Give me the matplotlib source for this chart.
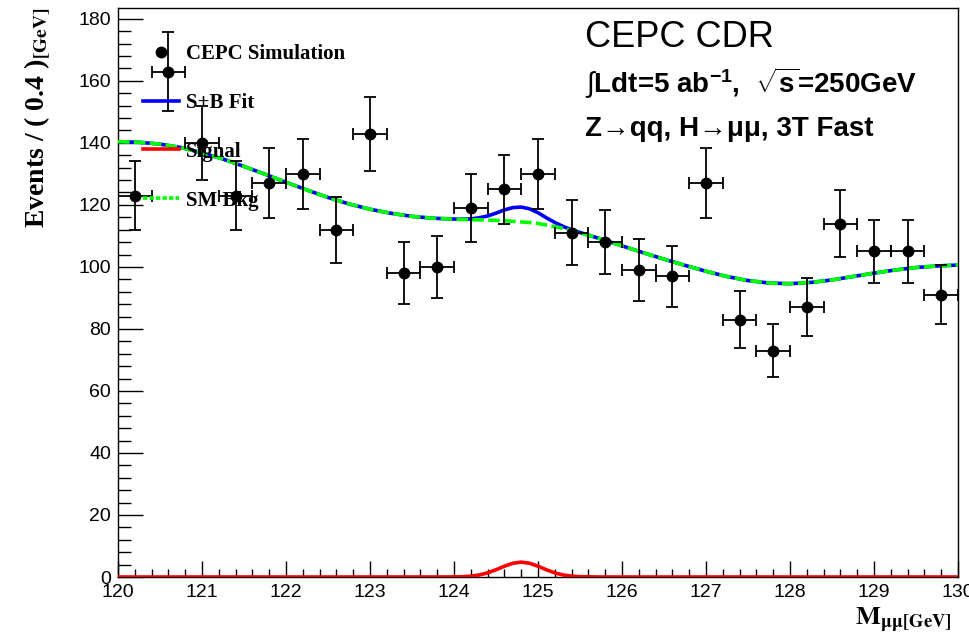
import numpy as np
import matplotlib
matplotlib.use("Agg")
import matplotlib.pyplot as plt
from matplotlib.lines import Line2D
from matplotlib.ticker import MultipleLocator

plt.rcParams.update({
    "font.family": ["Liberation Sans", "DejaVu Sans"],
    "mathtext.fontset": "custom",
    "mathtext.rm": "Liberation Sans",
    "mathtext.bf": "Liberation Sans:bold",
    "mathtext.it": "Liberation Sans:italic",
})

# binned M_mumu data, 0.4 GeV bins
bin_centers = [120.2, 120.6, 121.0, 121.4, 121.8, 122.2, 122.6, 123.0, 123.4,
               123.8, 124.2, 124.6, 125.0, 125.4, 125.8, 126.2, 126.6, 127.0,
               127.4, 127.8, 128.2, 128.6, 129.0, 129.4, 129.8]
events = [123, 163, 140, 123, 127, 130, 112, 143, 98, 100, 119, 125, 130,
          111, 108, 99, 97, 127, 83, 73, 87, 114, 105, 105, 91]
bin_halfwidth = 0.2

# fit curves sampled along M_mumu
fit_x = [120.00, 120.25, 120.50, 120.75, 121.00, 121.25, 121.50, 121.75,
         122.00, 122.25, 122.50, 122.75, 123.00, 123.25, 123.50, 123.75,
         124.00, 124.10, 124.20, 124.30, 124.40, 124.50, 124.60, 124.70,
         124.80, 124.90, 125.00, 125.10, 125.20, 125.30, 125.40, 125.50,
         125.75, 126.00, 126.25, 126.50, 126.75, 127.00, 127.25, 127.50,
         127.75, 128.00, 128.25, 128.50, 128.75, 129.00, 129.25, 129.50,
         129.75, 130.00]
bkg = [140.4, 140.2, 139.6, 138.5, 136.8, 134.8, 132.4, 129.9,
       127.3, 124.8, 122.4, 120.3, 118.6, 117.3, 116.3, 115.7,
       115.4, 115.3, 115.2, 115.2, 115.1, 115.0, 114.9, 114.7,
       114.5, 114.3, 114.0, 113.5, 113.0, 112.4, 111.7, 111.0,
       109.0, 106.8, 104.6, 102.5, 100.5, 98.6, 96.9, 95.6,
       94.8, 94.6, 95.0, 95.8, 96.9, 98.0, 99.0, 99.8,
       100.3, 100.6]
signal = [0.0, 0.0, 0.0, 0.0, 0.0, 0.0, 0.0, 0.0,
          0.0, 0.0, 0.0, 0.0, 0.0, 0.0, 0.0, 0.0,
          0.03, 0.10, 0.27, 0.65, 1.33, 2.34, 3.48, 4.43,
          4.80, 4.43, 3.48, 2.34, 1.33, 0.65, 0.27, 0.10,
          0.0, 0.0, 0.0, 0.0, 0.0, 0.0, 0.0, 0.0,
          0.0, 0.0, 0.0, 0.0, 0.0, 0.0, 0.0, 0.0,
          0.0, 0.0]

fit_x = np.array(fit_x)
bkg = np.array(bkg)
signal = np.array(signal)
sb = bkg + signal
events = np.array(events, dtype=float)
err = np.sqrt(events)

fig = plt.figure(figsize=(9.69, 6.40), dpi=100)
ax = fig.add_axes([118 / 969, 63 / 640, 840 / 969, 569 / 640])

ax.plot(fit_x, sb, color="#0000ff", lw=2.6, solid_capstyle="butt", zorder=2)
ax.plot(fit_x, bkg, color="#00ff00", lw=2.6, dashes=(3.2, 1.2), zorder=3)
ax.plot(fit_x, signal, color="#ff0000", lw=2.6, zorder=3)
ax.errorbar(bin_centers, events, xerr=bin_halfwidth, yerr=err, fmt="o",
            color="black", ms=7.5, elinewidth=1.3, capsize=4.0,
            capthick=1.3, zorder=4)

ax.set_xlim(120, 130)
ax.set_ylim(0, 183.5)
ax.xaxis.set_major_locator(MultipleLocator(1))
ax.xaxis.set_minor_locator(MultipleLocator(0.2))
ax.yaxis.set_major_locator(MultipleLocator(20))
ax.yaxis.set_minor_locator(MultipleLocator(4))
ax.tick_params(axis="both", which="both", direction="in", top=False,
               right=False, labelsize=14, width=1.0)
ax.tick_params(axis="x", which="major", length=11.5, pad=5)
ax.tick_params(axis="x", which="minor", length=5.8)
ax.tick_params(axis="y", which="major", length=18, pad=5)
ax.tick_params(axis="y", which="minor", length=9.4)
for s in ax.spines.values():
    s.set_linewidth(1.0)

# axis titles, ROOT-like placement
fig.text(38 / 969, 1 - 7 / 640, r"Events / ( 0.4 )$_{\mathbf{[GeV]}}$",
         rotation=90, ha="center", va="top", fontsize=20,
         family="Liberation Serif", fontweight="bold", math_fontfamily="stix")
ax.text((952 - 118) / 840, -(625 - 577) / 569,
        r"$\mathbf{M}_{\mathbf{μμ[GeV]}}$", transform=ax.transAxes,
        ha="right", va="baseline", fontsize=19, math_fontfamily="stix")

# legend
handles = [
    Line2D([], [], ls="none", marker="o", color="black", ms=7.5),
    Line2D([], [], color="#0000ff", lw=2.6),
    Line2D([], [], color="#ff0000", lw=2.6),
    Line2D([], [], color="#00ff00", lw=2.6, dashes=(1.2, 0.6)),
]
labels = ["CEPC Simulation", "S+B Fit", "Signal", "SM Bkg"]
ax.legend(handles, labels, loc="upper left", bbox_to_anchor=(0.03, 0.937),
          frameon=False, borderpad=0, borderaxespad=0, handlelength=1.7,
          handletextpad=0.35, labelspacing=1.39,
          prop={"family": "Liberation Serif", "weight": "bold", "size": 15})

# experiment labels
fig.text(585 / 969, 1 - 47 / 640, "CEPC CDR", fontsize=26, ha="left",
         va="baseline")
fig.text(585 / 969, 1 - 93 / 640,
         r"$\int$Ldt=5 ab$^{\mathbf{-1}}$,  $\sqrt{\mathbf{s}}$=250GeV",
         fontsize=20, fontweight="bold", ha="left", va="baseline")
fig.text(585 / 969, 1 - 136 / 640, "Z→qq, H→μμ, 3T Fast",
         fontsize=20, fontweight="bold", ha="left", va="baseline")

fig.savefig("out.png", dpi=100)
